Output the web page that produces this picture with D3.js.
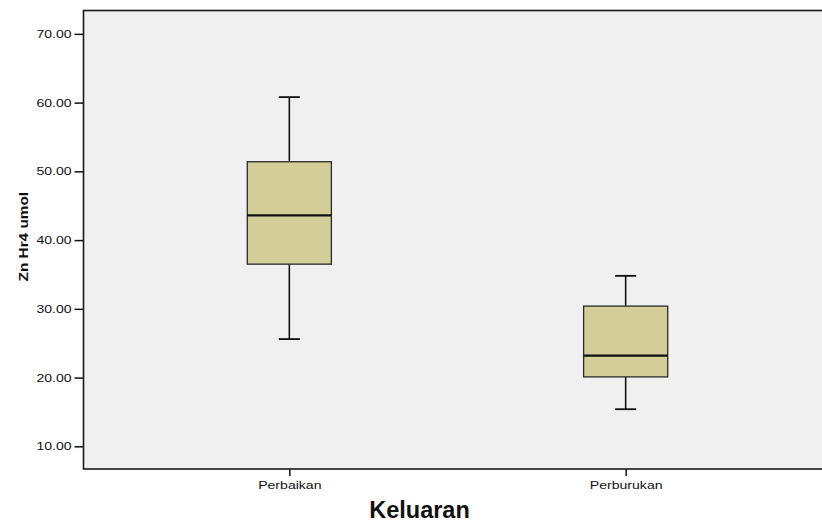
<!DOCTYPE html>
<html>
<head>
<meta charset="utf-8">
<script src="https://cdn.jsdelivr.net/npm/d3@7"></script>
<style>
  html, body { margin: 0; padding: 0; background: #ffffff; }
  svg { display: block; font-family: Arial, "Liberation Sans", sans-serif; }
</style>
</head>
<body>
<svg id="chart" width="822" height="525"></svg>
<script>
// Outcome groups and Zn (hour 4) box-plot summaries
const categories = ["Perbaikan", "Perburukan"];
const whiskerLow = [25.6, 15.4];
const q1 = [36.5, 20.1];
const median = [43.6, 23.2];
const q3 = [51.4, 30.4];
const whiskerHigh = [60.8, 34.8];
const yTicks = [10, 20, 30, 40, 50, 60, 70];

const data = categories.map((c, i) => ({
  cat: c, lo: whiskerLow[i], q1: q1[i], med: median[i], q3: q3[i], hi: whiskerHigh[i]
}));

const svg = d3.select("#chart");
const plot = { left: 83.5, top: 10.5, right: 831.5, bottom: 469 };

const y = d3.scaleLinear().domain([6.7, 73.4]).range([plot.bottom, plot.top]);
const x = d3.scalePoint().domain(categories).range([plot.left, plot.right]).padding(0.612);
const boxW = x.step() * 0.25;
const capW = boxW * 0.25;

// plot background
svg.append("rect")
  .attr("x", plot.left).attr("y", plot.top)
  .attr("width", plot.right - plot.left).attr("height", plot.bottom - plot.top)
  .attr("fill", "#f0f0f0");

// boxes
const g = svg.append("g");
data.forEach(d => {
  const cx = x(d.cat);
  g.append("line")
    .attr("x1", cx).attr("x2", cx).attr("y1", y(d.hi)).attr("y2", y(d.q3))
    .attr("stroke", "#111").attr("stroke-width", 1.6);
  g.append("line")
    .attr("x1", cx).attr("x2", cx).attr("y1", y(d.q1)).attr("y2", y(d.lo))
    .attr("stroke", "#111").attr("stroke-width", 1.6);
  [d.hi, d.lo].forEach(v => {
    g.append("line")
      .attr("x1", cx - capW / 2).attr("x2", cx + capW / 2)
      .attr("y1", y(v)).attr("y2", y(v))
      .attr("stroke", "#111").attr("stroke-width", 1.8);
  });
  g.append("rect")
    .attr("x", cx - boxW / 2).attr("y", y(d.q3))
    .attr("width", boxW).attr("height", y(d.q1) - y(d.q3))
    .attr("fill", "#d3ce97").attr("stroke", "#2a2a2a").attr("stroke-width", 1.3);
  g.append("line")
    .attr("x1", cx - boxW / 2).attr("x2", cx + boxW / 2)
    .attr("y1", y(d.med)).attr("y2", y(d.med))
    .attr("stroke", "#111").attr("stroke-width", 2.2);
});

// y axis
const stretch = 1.3;
const yAxis = svg.append("g")
  .attr("transform", `translate(${plot.left},0)`)
  .call(d3.axisLeft(y).tickValues(yTicks).tickFormat(d3.format(".2f")).tickSize(9).tickPadding(3));
yAxis.select(".domain").remove();
yAxis.selectAll(".tick line").attr("stroke", "#111").attr("stroke-width", 1.5);
yAxis.selectAll(".tick text")
  .attr("font-size", 10.8).attr("fill", "#111")
  .attr("font-family", "Arial, 'Liberation Sans', sans-serif")
  .attr("x", -12 / stretch)
  .attr("transform", `scale(${stretch},1)`);

// x axis
const xAxis = svg.append("g")
  .attr("transform", `translate(0,${plot.bottom})`)
  .call(d3.axisBottom(x).tickSize(7).tickPadding(5));
xAxis.select(".domain").remove();
xAxis.selectAll(".tick line").attr("stroke", "#111").attr("stroke-width", 1.5);
xAxis.selectAll(".tick text")
  .attr("font-size", 11).attr("fill", "#111")
  .attr("font-family", "Arial, 'Liberation Sans', sans-serif")
  .attr("transform", "scale(1.28,1)");

// frame
svg.append("rect")
  .attr("x", plot.left).attr("y", plot.top)
  .attr("width", plot.right - plot.left).attr("height", plot.bottom - plot.top)
  .attr("fill", "none").attr("stroke", "#1a1a1a").attr("stroke-width", 1.6);

// axis titles
svg.append("text")
  .attr("transform", `translate(27.5,236.7) rotate(-90) scale(1.28,1)`)
  .attr("text-anchor", "middle")
  .attr("font-size", 12).attr("font-weight", "bold").attr("fill", "#111")
  .text("Zn Hr4 umol");

svg.append("text")
  .attr("x", 419.5).attr("y", 518.3)
  .attr("text-anchor", "middle")
  .attr("font-size", 23.5).attr("font-weight", "bold").attr("fill", "#111")
  .text("Keluaran");
</script>
</body>
</html>
